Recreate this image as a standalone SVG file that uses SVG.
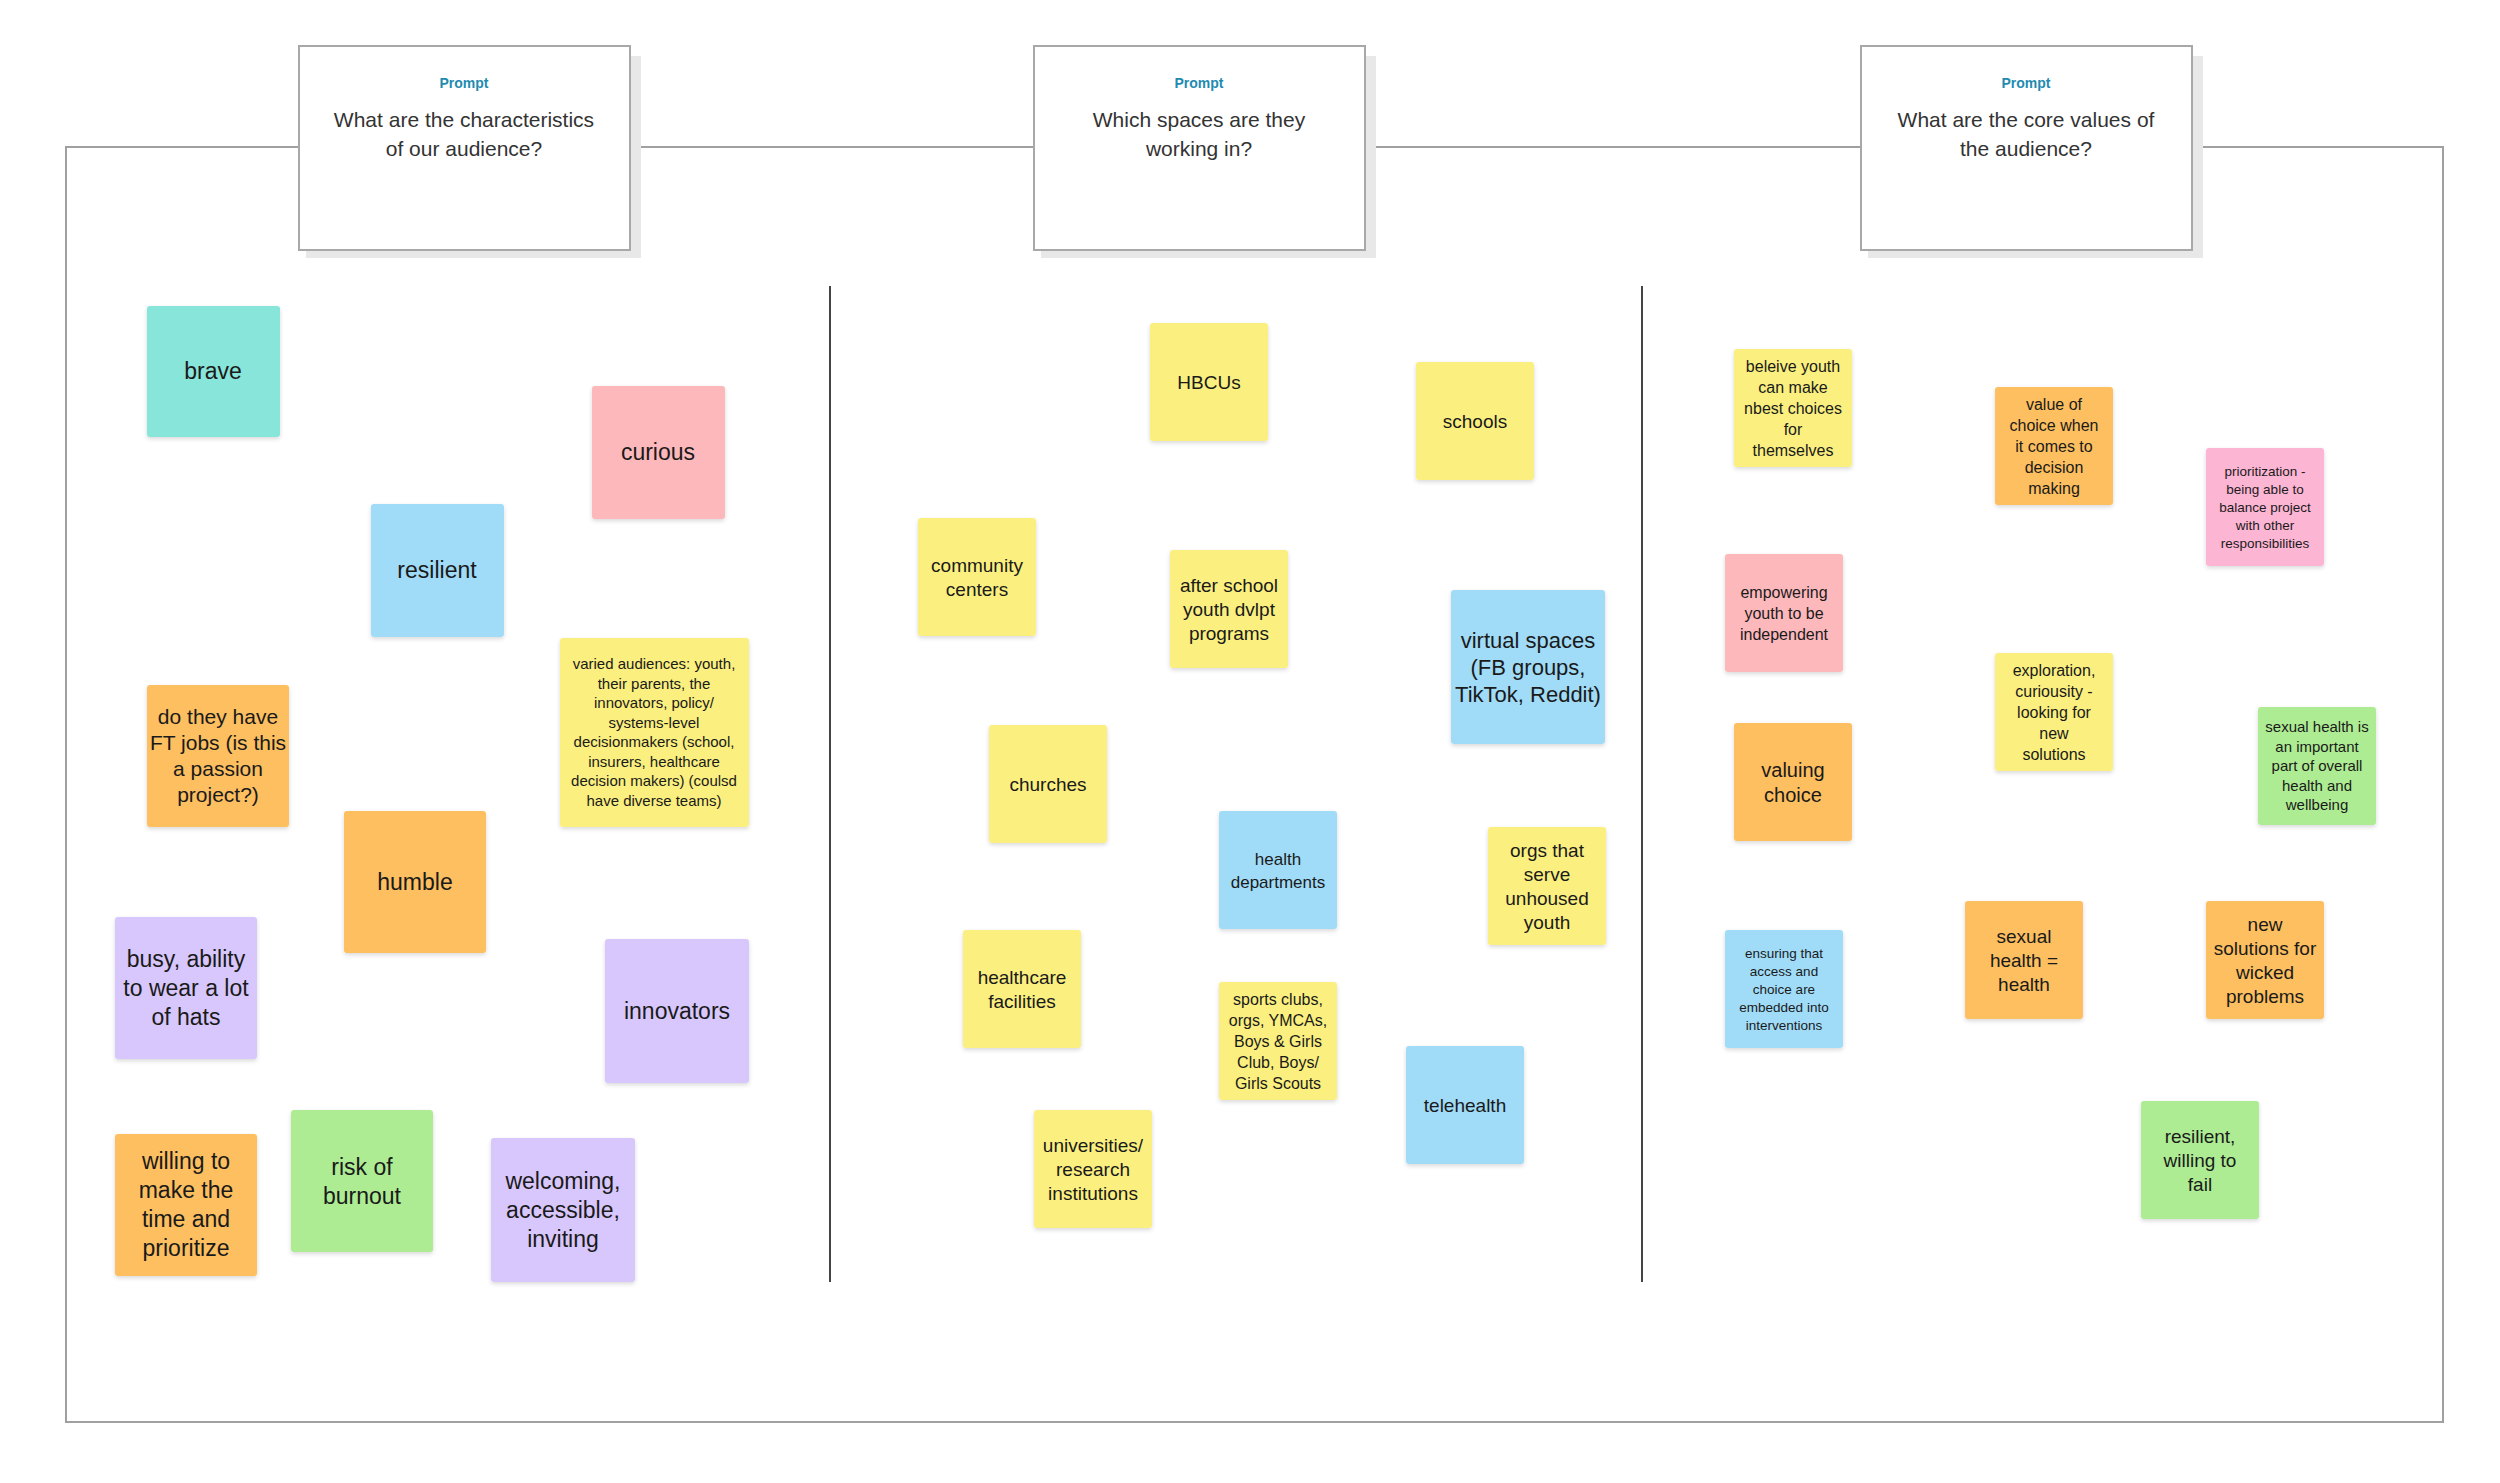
<svg xmlns="http://www.w3.org/2000/svg" width="2500" height="1483" viewBox="0 0 2500 1483">
<defs>
<filter id="sh" x="-10%" y="-10%" width="130%" height="130%"><feDropShadow dx="0" dy="2" stdDeviation="2" flood-color="#000" flood-opacity="0.15"/></filter>
<style>
text{font-family:"Liberation Sans",Arial,sans-serif;fill:#1a1a1a;text-anchor:middle}
.n rect{filter:url(#sh)}
.teal{fill:#88E5D9}.pink{fill:#FDB8BC}.blue{fill:#A0DCF8}.yel{fill:#FBF07F}.ora{fill:#FDBF5F}.pur{fill:#D8C7FC}.grn{fill:#ADEC93}.hpk{fill:#FDB5D4}
.pr{fill:#fff;stroke:#a8a8a8;stroke-width:2}
.ps{fill:#e8e8e8}
.pl{font-size:14px;font-weight:bold;fill:#1F8BB0}
.pq{font-size:21px;fill:#333}
</style>
</defs>
<rect width="2500" height="1483" fill="#fff"/>
<g id="frame">
<rect x="66" y="147" width="2377" height="1275" fill="none" stroke="#a0a0a0" stroke-width="2"/>
<line x1="830" y1="286" x2="830" y2="1282" stroke="#444" stroke-width="2"/>
<line x1="1642" y1="286" x2="1642" y2="1282" stroke="#444" stroke-width="2"/>
</g>
<g id="prompt1"><rect class="ps" x="306" y="56" width="335" height="202"/><rect class="pr" x="299" y="46" width="331" height="204"/><text class="pl" x="464" y="88">Prompt</text><text class="pq" x="464" y="127">What are the characteristics</text><text class="pq" x="464" y="156">of our audience?</text></g>
<g id="prompt2"><rect class="ps" x="1041" y="56" width="335" height="202"/><rect class="pr" x="1034" y="46" width="331" height="204"/><text class="pl" x="1199" y="88">Prompt</text><text class="pq" x="1199" y="127">Which spaces are they</text><text class="pq" x="1199" y="156">working in?</text></g>
<g id="prompt3"><rect class="ps" x="1868" y="56" width="335" height="202"/><rect class="pr" x="1861" y="46" width="331" height="204"/><text class="pl" x="2026" y="88">Prompt</text><text class="pq" x="2026" y="127">What are the core values of</text><text class="pq" x="2026" y="156">the audience?</text></g>

<g id="brave" class="n"><rect class="teal" x="147" y="306" width="133" height="131" rx="3"/><text font-size="23" x="213" y="379">brave</text></g>
<g id="curious" class="n"><rect class="pink" x="592" y="386" width="133" height="133" rx="3"/><text font-size="23" x="658" y="460">curious</text></g>
<g id="resilient" class="n"><rect class="blue" x="371" y="504" width="133" height="133" rx="3"/><text font-size="23" x="437" y="578">resilient</text></g>
<g id="varied" class="n"><rect class="yel" x="560" y="638" width="189" height="189" rx="3"/><text font-size="15" x="654"><tspan x="654" y="669">varied audiences: youth,</tspan><tspan x="654" dy="19.5">their parents, the</tspan><tspan x="654" dy="19.5">innovators, policy/</tspan><tspan x="654" dy="19.5">systems-level</tspan><tspan x="654" dy="19.5">decisionmakers (school,</tspan><tspan x="654" dy="19.5">insurers, healthcare</tspan><tspan x="654" dy="19.5">decision makers) (coulsd</tspan><tspan x="654" dy="19.5">have diverse teams)</tspan></text></g>
<g id="ftjobs" class="n"><rect class="ora" x="147" y="685" width="142" height="142" rx="3"/><text font-size="21" x="218"><tspan x="218" y="724">do they have</tspan><tspan x="218" dy="26">FT jobs (is this</tspan><tspan x="218" dy="26">a passion</tspan><tspan x="218" dy="26">project?)</tspan></text></g>
<g id="humble" class="n"><rect class="ora" x="344" y="811" width="142" height="142" rx="3"/><text font-size="23" x="415" y="890">humble</text></g>
<g id="busy" class="n"><rect class="pur" x="115" y="917" width="142" height="142" rx="3"/><text font-size="23" x="186"><tspan x="186" y="967">busy, ability</tspan><tspan x="186" dy="29">to wear a lot</tspan><tspan x="186" dy="29">of hats</tspan></text></g>
<g id="innovators" class="n"><rect class="pur" x="605" y="939" width="144" height="144" rx="3"/><text font-size="23" x="677" y="1019">innovators</text></g>
<g id="willing" class="n"><rect class="ora" x="115" y="1134" width="142" height="142" rx="3"/><text font-size="23" x="186"><tspan x="186" y="1169">willing to</tspan><tspan x="186" dy="29">make the</tspan><tspan x="186" dy="29">time and</tspan><tspan x="186" dy="29">prioritize</tspan></text></g>
<g id="burnout" class="n"><rect class="grn" x="291" y="1110" width="142" height="142" rx="3"/><text font-size="23" x="362"><tspan x="362" y="1175">risk of</tspan><tspan x="362" dy="29">burnout</tspan></text></g>
<g id="welcoming" class="n"><rect class="pur" x="491" y="1138" width="144" height="144" rx="3"/><text font-size="23" x="563"><tspan x="563" y="1189">welcoming,</tspan><tspan x="563" dy="29">accessible,</tspan><tspan x="563" dy="29">inviting</tspan></text></g>

<g id="hbcus" class="n"><rect class="yel" x="1150" y="323" width="118" height="118" rx="3"/><text font-size="19" x="1209" y="389">HBCUs</text></g>
<g id="schools" class="n"><rect class="yel" x="1416" y="362" width="118" height="118" rx="3"/><text font-size="19" x="1475" y="428">schools</text></g>
<g id="community" class="n"><rect class="yel" x="918" y="518" width="118" height="118" rx="3"/><text font-size="19" x="977"><tspan x="977" y="571.5">community</tspan><tspan x="977" dy="24">centers</tspan></text></g>
<g id="afterschool" class="n"><rect class="yel" x="1170" y="550" width="118" height="118" rx="3"/><text font-size="19" x="1229"><tspan x="1229" y="591.5">after school</tspan><tspan x="1229" dy="24">youth dvlpt</tspan><tspan x="1229" dy="24">programs</tspan></text></g>
<g id="virtual" class="n"><rect class="blue" x="1451" y="590" width="154" height="154" rx="3"/><text font-size="22" x="1528"><tspan x="1528" y="648">virtual spaces</tspan><tspan x="1528" dy="27">(FB groups,</tspan><tspan x="1528" dy="27">TikTok, Reddit)</tspan></text></g>
<g id="churches" class="n"><rect class="yel" x="989" y="725" width="118" height="118" rx="3"/><text font-size="19" x="1048" y="791">churches</text></g>
<g id="healthdept" class="n"><rect class="blue" x="1219" y="811" width="118" height="118" rx="3"/><text font-size="17" x="1278"><tspan x="1278" y="864.5">health</tspan><tspan x="1278" dy="23">departments</tspan></text></g>
<g id="unhoused" class="n"><rect class="yel" x="1488" y="827" width="118" height="118" rx="3"/><text font-size="19" x="1547"><tspan x="1547" y="856.5">orgs that</tspan><tspan x="1547" dy="24">serve</tspan><tspan x="1547" dy="24">unhoused</tspan><tspan x="1547" dy="24">youth</tspan></text></g>
<g id="healthcare" class="n"><rect class="yel" x="963" y="930" width="118" height="118" rx="3"/><text font-size="19" x="1022"><tspan x="1022" y="983.5">healthcare</tspan><tspan x="1022" dy="24">facilities</tspan></text></g>
<g id="sports" class="n"><rect class="yel" x="1219" y="982" width="118" height="118" rx="3"/><text font-size="16" x="1278"><tspan x="1278" y="1004.6">sports clubs,</tspan><tspan x="1278" dy="21">orgs, YMCAs,</tspan><tspan x="1278" dy="21">Boys &amp; Girls</tspan><tspan x="1278" dy="21">Club, Boys/</tspan><tspan x="1278" dy="21">Girls Scouts</tspan></text></g>
<g id="telehealth" class="n"><rect class="blue" x="1406" y="1046" width="118" height="118" rx="3"/><text font-size="19" x="1465" y="1112">telehealth</text></g>
<g id="universities" class="n"><rect class="yel" x="1034" y="1110" width="118" height="118" rx="3"/><text font-size="19" x="1093"><tspan x="1093" y="1151.5">universities/</tspan><tspan x="1093" dy="24">research</tspan><tspan x="1093" dy="24">institutions</tspan></text></g>

<g id="beleive" class="n"><rect class="yel" x="1734" y="349" width="118" height="118" rx="3"/><text font-size="16" x="1793"><tspan x="1793" y="371.6">beleive youth</tspan><tspan x="1793" dy="21">can make</tspan><tspan x="1793" dy="21">nbest choices</tspan><tspan x="1793" dy="21">for</tspan><tspan x="1793" dy="21">themselves</tspan></text></g>
<g id="valueofchoice" class="n"><rect class="ora" x="1995" y="387" width="118" height="118" rx="3"/><text font-size="16" x="2054"><tspan x="2054" y="409.6">value of</tspan><tspan x="2054" dy="21">choice when</tspan><tspan x="2054" dy="21">it comes to</tspan><tspan x="2054" dy="21">decision</tspan><tspan x="2054" dy="21">making</tspan></text></g>
<g id="prioritization" class="n"><rect class="hpk" x="2206" y="448" width="118" height="118" rx="3"/><text font-size="13.5" x="2265"><tspan x="2265" y="475.7">prioritization -</tspan><tspan x="2265" dy="18">being able to</tspan><tspan x="2265" dy="18">balance project</tspan><tspan x="2265" dy="18">with other</tspan><tspan x="2265" dy="18">responsibilities</tspan></text></g>
<g id="empowering" class="n"><rect class="pink" x="1725" y="554" width="118" height="118" rx="3"/><text font-size="16" x="1784"><tspan x="1784" y="597.6">empowering</tspan><tspan x="1784" dy="21">youth to be</tspan><tspan x="1784" dy="21">independent</tspan></text></g>
<g id="exploration" class="n"><rect class="yel" x="1995" y="653" width="118" height="118" rx="3"/><text font-size="16" x="2054"><tspan x="2054" y="675.6">exploration,</tspan><tspan x="2054" dy="21">curiousity -</tspan><tspan x="2054" dy="21">looking for</tspan><tspan x="2054" dy="21">new</tspan><tspan x="2054" dy="21">solutions</tspan></text></g>
<g id="valuing" class="n"><rect class="ora" x="1734" y="723" width="118" height="118" rx="3"/><text font-size="20" x="1793"><tspan x="1793" y="776.5">valuing</tspan><tspan x="1793" dy="25">choice</tspan></text></g>
<g id="sexualhealthis" class="n"><rect class="grn" x="2258" y="707" width="118" height="118" rx="3"/><text font-size="15" x="2317"><tspan x="2317" y="732.3">sexual health is</tspan><tspan x="2317" dy="19.5">an important</tspan><tspan x="2317" dy="19.5">part of overall</tspan><tspan x="2317" dy="19.5">health and</tspan><tspan x="2317" dy="19.5">wellbeing</tspan></text></g>
<g id="ensuring" class="n"><rect class="blue" x="1725" y="930" width="118" height="118" rx="3"/><text font-size="13.5" x="1784"><tspan x="1784" y="957.7">ensuring that</tspan><tspan x="1784" dy="18">access and</tspan><tspan x="1784" dy="18">choice are</tspan><tspan x="1784" dy="18">embedded into</tspan><tspan x="1784" dy="18">interventions</tspan></text></g>
<g id="sexualhealth" class="n"><rect class="ora" x="1965" y="901" width="118" height="118" rx="3"/><text font-size="19" x="2024"><tspan x="2024" y="942.5">sexual</tspan><tspan x="2024" dy="24">health =</tspan><tspan x="2024" dy="24">health</tspan></text></g>
<g id="newsolutions" class="n"><rect class="ora" x="2206" y="901" width="118" height="118" rx="3"/><text font-size="19" x="2265"><tspan x="2265" y="930.5">new</tspan><tspan x="2265" dy="24">solutions for</tspan><tspan x="2265" dy="24">wicked</tspan><tspan x="2265" dy="24">problems</tspan></text></g>
<g id="resilientfail" class="n"><rect class="grn" x="2141" y="1101" width="118" height="118" rx="3"/><text font-size="19" x="2200"><tspan x="2200" y="1142.5">resilient,</tspan><tspan x="2200" dy="24">willing to</tspan><tspan x="2200" dy="24">fail</tspan></text></g>
<g id="connectors"/>
</svg>
